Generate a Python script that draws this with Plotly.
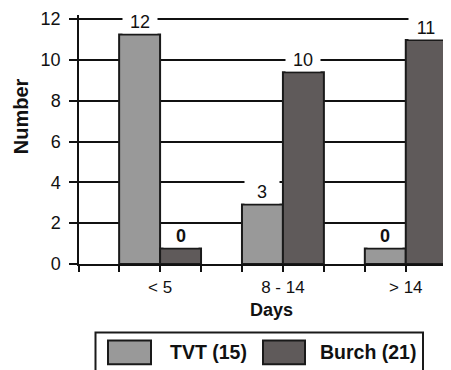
import plotly.graph_objects as go

categories = ["< 5", "8 - 14", "> 14"]
series_names = ["TVT (15)", "Burch (21)"]
tvt_heights = [11.25, 2.92, 0.76]
burch_heights = [0.76, 9.4, 10.98]
tvt_labels = ["12", "3", "0"]
burch_labels = ["0", "10", "11"]
y_ticks = [0, 2, 4, 6, 8, 10, 12]
colors = ["#999999", "#5f5a5a"]
edge_color = "#1a1a1a"
FONT = "Liberation Sans, Arial, sans-serif"

OFF = 8  # page body margin
W, H = 451 - OFF, 370 - OFF
ML, MR, MT, MB = 79 - OFF, 1, 13 - OFF, 106
PW, PH = W - ML - MR, H - MT - MB

def px(x):
    return (x - OFF - ML) / PW

def py(y):
    return (H - MB - (y - OFF)) / PH

xs = list(range(len(categories)))
fig = go.Figure()
fig.add_trace(go.Bar(x=xs, y=tvt_heights, name=series_names[0],
                     marker=dict(color=colors[0], line=dict(color=edge_color, width=2)),
                     showlegend=False))
fig.add_trace(go.Bar(x=xs, y=burch_heights, name=series_names[1],
                     marker=dict(color=colors[1], line=dict(color=edge_color, width=2)),
                     showlegend=False))

annotations = []
for i in xs:
    for off, lab, h in ((-1/6, tvt_labels[i], tvt_heights[i]), (1/6, burch_labels[i], burch_heights[i])):
        txt = "<b>%s</b>" % lab if lab == "0" else lab
        annotations.append(dict(x=i + off, y=h, xref="x", yref="y", text=txt, showarrow=False,
                                xanchor="center", yanchor="bottom", yshift=0, bgcolor="white", width=32,
                                font=dict(family=FONT, size=18, color="#111")))

# axis titles
annotations.append(dict(x=px(21), y=py(115), xref="paper", yref="paper", text="<b>Number</b>",
                        textangle=-90, showarrow=False, xanchor="center", yanchor="middle",
                        font=dict(family=FONT, size=20, color="#111")))
annotations.append(dict(x=px(271), y=py(310), xref="paper", yref="paper", text="<b>Days</b>",
                        showarrow=False, xanchor="center", yanchor="middle",
                        font=dict(family=FONT, size=18, color="#111")))

# manual legend
shapes = [dict(type="rect", xref="paper", yref="paper", x0=px(95.5), x1=px(423), y0=py(385), y1=py(333),
               line=dict(color=edge_color, width=2), fillcolor="rgba(0,0,0,0)")]
sw = [(108, 151, 168), (263, 305, 318)]
for k, (x0, x1, tx) in enumerate(sw):
    shapes.append(dict(type="rect", xref="paper", yref="paper", x0=px(x0), x1=px(x1), y0=py(365), y1=py(341),
                       line=dict(color=edge_color, width=2), fillcolor=colors[k]))
    annotations.append(dict(x=px(tx), y=py(353), xref="paper", yref="paper", text="<b>%s</b>" % series_names[k],
                            xanchor="left", yanchor="middle", showarrow=False,
                            font=dict(family=FONT, size=19.5, color="#111")))

tickvals = [-0.66]
ticktext = [""]
for i, c in enumerate(categories):
    tickvals += [i - 1/3, i, i + 1/3]
    ticktext += ["", c, ""]

fig.update_layout(
    width=W, height=H, margin=dict(l=ML, r=MR, t=MT, b=MB),
    paper_bgcolor="white", plot_bgcolor="white",
    barmode="group", bargap=1/3, bargroupgap=0,
    font=dict(family=FONT, size=18, color="#111"),
    annotations=annotations, shapes=shapes,
    xaxis=dict(range=[-0.66, 2.36], tickmode="array", tickvals=tickvals, ticktext=ticktext,
               ticks="outside", ticklen=6, tickwidth=1.5, tickcolor="#111",
               showline=True, linecolor="#111", linewidth=1.5, showgrid=False, zeroline=False,
               ticklabelstandoff=1, tickfont=dict(family=FONT, size=17)),
    yaxis=dict(range=[0, 12.2], tickmode="array", tickvals=y_ticks,
               ticks="outside", ticklen=8, tickwidth=1.5, tickcolor="#111",
               showline=True, linecolor="#111", linewidth=1.5,
               showgrid=True, gridcolor="#111", gridwidth=1.5, zeroline=False,
               ticklabelstandoff=5, ticklabeloverflow="allow", tickfont=dict(family=FONT, size=18)),
)
fig.write_html("out.html")
